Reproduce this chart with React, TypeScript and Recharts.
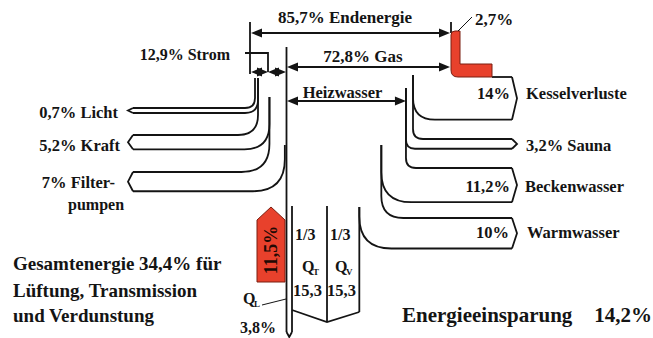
import React from 'react';
import { ComposedChart, Customized } from 'recharts';

// energy flow, % of total supplied energy
const endenergie = 85.7;
const strom = 12.9;
const gas = 72.8;
const kesselverluste = 14;
const heizwasserLabel = 'Heizwasser';

const stromNames = ['Licht', 'Kraft', 'Filter-'];
const stromValues = [0.7, 5.2, 7];

const heizNames = ['Sauna', 'Beckenwasser', 'Warmwasser'];
const heizValues = [3.2, 11.2, 10];

const lossSubs = ['T', 'V', 'L'];
const lossValues = [15.3, 15.3, 3.8];
const lossShares = ['1/3', '1/3'];

const savingValues = [11.5, 2.7];

const W = 653;
const H = 338;
const FONT = '"Liberation Serif", "Times New Roman", serif';
const INK = '#141414';
const RED = '#e8412c';
const SW = 1.8;

const fmt = (v: number) => {
  const r = Math.round(v * 10) / 10;
  return Number.isInteger(r) ? String(r) : r.toFixed(1).replace('.', ',');
};

// px per % for the bands
const KV = 2.2;
const KH_LEFT = 2.75;
const KH_RIGHT = 3.05;

const turn = (x: number, yStart: number, yH: number, r: number, dir: number, xEnd: number) =>
  `M${x},${yStart} L${x},${yH - r} Q${x},${yH} ${x + dir * r},${yH} L${xEnd},${yH}`;

const Arrow = ({ x1, x2, y }: { x1: number; x2: number; y: number }) => (
  <g>
    <line x1={x1 + 6} x2={x2 - 6} y1={y} y2={y} stroke={INK} strokeWidth={SW} />
    <polygon points={`${x1},${y} ${x1 + 11},${y - 4.5} ${x1 + 11},${y + 4.5}`} fill={INK} stroke="none" />
    <polygon points={`${x2},${y} ${x2 - 11},${y - 4.5} ${x2 - 11},${y + 4.5}`} fill={INK} stroke="none" />
  </g>
);

const T = ({ x, y, size = 16, anchor = 'start', children, fill = INK }: any) => (
  <text x={x} y={y} fontSize={size} fontFamily={FONT} fontWeight="bold" textAnchor={anchor} fill={fill}>
    {children}
  </text>
);

const Diagram = () => {
  // left (Strom) branches
  const lTops = [108, 135, 172];
  const lRin = [10, 20, 28];
  const lRout = [13, 25, 32];
  const lStart = [78, 78, 97];
  const lStartR = [78, 97, 145];
  const leftEnd = 133;
  let lx = 255;
  const left = stromValues.map((v, i) => {
    const w = Math.max(3, v * KV);
    const h = Math.max(5, v * KH_LEFT);
    const b = { xa: lx, xb: lx + w, top: lTops[i], bot: lTops[i] + h };
    lx += w;
    return b;
  });

  // right (Heizwasser) branches
  const rTops = [139, 168, 218];
  const rRin = [10, 10, 22];
  const rRout = [9, 30, 32];
  const rStartR = [75, 88, 145];
  const rStartL = [88, 145, 207];
  const rightEnd = 512;
  let rx = 413;
  const right = heizValues.map((v, i) => {
    const w = v * KV;
    const h = v * KH_RIGHT;
    const b = { xb: rx, xa: rx - w, top: rTops[i], bot: rTops[i] + h };
    rx -= w;
    return b;
  });

  const kTop = 77;
  const kBot = kTop + kesselverluste * KH_RIGHT;
  const heizX = right[0].xa;
  const qvRight = right[2].xa;

  return (
    <g fill="none" stroke={INK} strokeWidth={SW}>
      {/* top dimension arrows */}
      <line x1={250} x2={250} y1={22} y2={74} />
      <line x1={451} x2={451} y1={22} y2={33} />
      <Arrow x1={251} x2={450} y={33} />
      <Arrow x1={287} x2={450} y={67} />
      <path d="M245,53 L268,53 L268,72" />
      <Arrow x1={251} x2={268} y={72} />
      <Arrow x1={268} x2={286} y={72} />
      <Arrow x1={287} x2={heizX} y={101} />

      {/* trunk and Q_L channel */}
      <line x1={286.5} x2={286.5} y1={47} y2={332} />
      <line x1={292} x2={292} y1={206} y2={332} />
      <path d="M286.5,332 L289.25,337 L292,332" />
      <line x1={327} x2={327} y1={206} y2={322} />
      <line x1={qvRight} x2={qvRight} y1={207} y2={312} />
      <path d={`M292,310 L327,322 L${qvRight},312`} />

      {/* Strom branches */}
      {left.map((b, i) => (
        <g key={`l${i}`}>
          <path d={turn(b.xa, lStart[i], b.top, lRin[i], -1, leftEnd)} />
          <path d={turn(b.xb, lStartR[i], b.bot, lRout[i], -1, leftEnd)} />
          <path d={`M${leftEnd},${b.top} L${leftEnd - 5},${(b.top + b.bot) / 2} L${leftEnd},${b.bot}`} />
        </g>
      ))}

      {/* Kesselverluste */}
      <path d={turn(413, 75, kBot, 22, 1, rightEnd)} />
      <line x1={492} x2={rightEnd} y1={kTop} y2={kTop} />
      <path d={`M${rightEnd},${kTop} L${rightEnd + 5},${(kTop + kBot) / 2} L${rightEnd},${kBot}`} />

      {/* Heizwasser branches */}
      {right.map((b, i) => (
        <g key={`r${i}`}>
          <path d={turn(b.xb, rStartR[i], b.top, rRin[i], 1, rightEnd)} />
          <path d={turn(b.xa, rStartL[i], b.bot, rRout[i], 1, rightEnd)} />
          <path d={`M${rightEnd},${b.top} L${rightEnd + 5},${(b.top + b.bot) / 2} L${rightEnd},${b.bot}`} />
        </g>
      ))}

      {/* savings (red) */}
      <path
        d="M451,35 Q451,31 455,31 L460,31 L460,64 L492,64 L492,77 L458,77 Q451,77 451,70 Z"
        fill={RED}
        stroke="#7a1e10"
        strokeWidth={1}
      />
      <line x1={458} y1={31} x2={472} y2={17} strokeWidth={1} />
      <polygon points="257,220 271,207 285,220 285,282 257,282" fill={RED} stroke="#7a1e10" strokeWidth={1} />
      <line x1={262} y1={305} x2={286} y2={299} strokeWidth={1} />

      {/* labels */}
      <g stroke="none">
        <T x={345} y={23} size={17} anchor="middle">{`${fmt(endenergie)}% Endenergie`}</T>
        <T x={475} y={25} size={17}>{`${fmt(savingValues[1])}%`}</T>
        <T x={230} y={60} size={16} anchor="end">{`${fmt(strom)}% Strom`}</T>
        <T x={363} y={62} size={17} anchor="middle">{`${fmt(gas)}% Gas`}</T>
        <T x={342.5} y={98} size={16.5} anchor="middle">{heizwasserLabel}</T>

        <T x={510} y={99} size={16.5} anchor="end">{`${fmt(kesselverluste)}%`}</T>
        <T x={526} y={99} size={16.5}>Kesselverluste</T>
        <T x={526} y={151} size={16.5}>{`${fmt(heizValues[0])}% ${heizNames[0]}`}</T>
        <T x={510} y={192} size={16.5} anchor="end">{`${fmt(heizValues[1])}%`}</T>
        <T x={525} y={192} size={16.5}>{heizNames[1]}</T>
        <T x={509} y={238} size={16.5} anchor="end">{`${fmt(heizValues[2])}%`}</T>
        <T x={527} y={238} size={16.5}>{heizNames[2]}</T>

        <T x={118} y={118} size={16.5} anchor="end">{`${fmt(stromValues[0])}% ${stromNames[0]}`}</T>
        <T x={120} y={151} size={16.5} anchor="end">{`${fmt(stromValues[1])}% ${stromNames[1]}`}</T>
        <T x={115} y={188} size={16.5} anchor="end">{`${fmt(stromValues[2])}% ${stromNames[2]}`}</T>
        <T x={68} y={210} size={16}>pumpen</T>

        <T x={295} y={240} size={16}>{lossShares[0]}</T>
        <T x={330} y={240} size={16}>{lossShares[1]}</T>
        <T x={302} y={272} size={16}>Q</T>
        <T x={313} y={275} size={9}>{lossSubs[0]}</T>
        <T x={335} y={272} size={16}>Q</T>
        <T x={346} y={275} size={9}>{lossSubs[1]}</T>
        <T x={293} y={296} size={16.5}>{fmt(lossValues[0])}</T>
        <T x={327} y={296} size={16.5}>{fmt(lossValues[1])}</T>
        <T x={243} y={304} size={16}>Q</T>
        <T x={254} y={307} size={9}>{lossSubs[2]}</T>
        <T x={240} y={333} size={16}>{`${fmt(lossValues[2])}%`}</T>

        <g transform="translate(277,250) rotate(-90)">
          <T x={0} y={0} size={18} anchor="middle" fill="#220904">{`${fmt(savingValues[0])}%`}</T>
        </g>

        <T x={13} y={270} size={19}>{`Gesamtenergie ${fmt(lossValues.reduce((a, b) => a + b, 0))}% für`}</T>
        <T x={13} y={296.5} size={19}>Lüftung, Transmission</T>
        <T x={13} y={321.5} size={19}>und Verdunstung</T>

        <T x={402} y={322} size={21}>Energieeinsparung</T>
        <T x={652} y={322} size={21} anchor="end">{`${fmt(savingValues[0] + savingValues[1])}%`}</T>
      </g>
    </g>
  );
};

export default function App() {
  return (
    <div style={{ position: 'absolute', left: 0, top: 0, width: W, height: H, background: '#fff' }}>
      <ComposedChart width={W} height={H} data={[]} margin={{ top: 0, right: 0, bottom: 0, left: 0 }}>
        <Customized component={<Diagram />} />
      </ComposedChart>
    </div>
  );
}
